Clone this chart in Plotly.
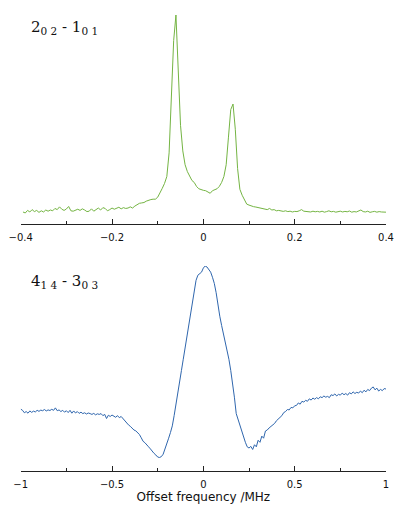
import plotly.graph_objects as go

# ---- data: 2_02 - 1_01 transition (x from -0.395 to 0.400 MHz, step 0.005)
top_x_start, top_x_step = -0.395, 0.005
top_signal = [
    0.000, -0.005, 0.008, 0.000, 0.012, 0.002, 0.008, -0.002, 0.006, 0.000,
    0.010, 0.004, 0.010, 0.006, 0.018, 0.012, 0.026, 0.014, 0.008, 0.015,
    0.028, 0.006, 0.004, 0.010, 0.014, 0.008, 0.016, 0.010, 0.002, 0.004,
    0.016, 0.004, 0.012, 0.020, 0.010, 0.022, 0.018, 0.006, 0.012, 0.020,
    0.014, 0.018, 0.024, 0.016, 0.022, 0.018, 0.020, 0.026, 0.020, 0.030,
    0.038, 0.044, 0.046, 0.048, 0.055, 0.060, 0.063, 0.065, 0.065, 0.075,
    0.095, 0.120, 0.145, 0.180, 0.300, 0.600, 0.870, 1.000, 0.720, 0.440,
    0.310, 0.240, 0.205, 0.180, 0.160, 0.150, 0.130, 0.118, 0.112, 0.110,
    0.108, 0.100, 0.095, 0.108, 0.115, 0.118, 0.130, 0.150, 0.180, 0.240,
    0.380, 0.520, 0.548, 0.420, 0.220, 0.115, 0.085, 0.060, 0.040, 0.035,
    0.030, 0.027, 0.025, 0.022, 0.020, 0.016, 0.014, 0.012, 0.018, 0.010,
    0.012, 0.006, 0.008, 0.004, 0.003, 0.006, 0.002, 0.004, 0.000, 0.003,
    0.002, 0.006, 0.012, 0.004, 0.002, 0.003, 0.000, 0.004, 0.001, 0.003,
    0.000, 0.004, -0.001, 0.002, 0.006, 0.001, 0.003, -0.001, 0.002, 0.004,
    0.000, 0.003, 0.001, 0.005, -0.001, 0.002, 0.000, 0.006, 0.010, 0.002,
    0.000, 0.004, -0.002, 0.001, 0.003, -0.001, 0.002, 0.000, 0.001, -0.001,
]
top_x = [round(top_x_start + i * top_x_step, 4) for i in range(len(top_signal))]

# ---- data: 4_14 - 3_03 transition (x from -1.00 to 1.00 MHz, step 0.01)
bot_x_start, bot_x_step = -1.0, 0.01
bot_signal = [
    0.302, 0.296, 0.284, 0.290, 0.282, 0.293, 0.286, 0.292, 0.288, 0.296,
    0.291, 0.297, 0.294, 0.300, 0.293, 0.298, 0.295, 0.301, 0.296, 0.308,
    0.294, 0.298, 0.290, 0.296, 0.287, 0.294, 0.285, 0.296, 0.282, 0.293,
    0.283, 0.290, 0.281, 0.287, 0.280, 0.284, 0.278, 0.283, 0.280, 0.276,
    0.281, 0.274, 0.279, 0.276, 0.280, 0.270, 0.276, 0.256, 0.272, 0.266,
    0.273, 0.268, 0.262, 0.270, 0.260, 0.266, 0.255, 0.245, 0.232, 0.225,
    0.218, 0.208, 0.200, 0.196, 0.188, 0.178, 0.162, 0.145, 0.138, 0.125,
    0.118, 0.108, 0.094, 0.086, 0.078, 0.068, 0.066, 0.070, 0.082, 0.105,
    0.135, 0.160, 0.188, 0.220, 0.270, 0.330, 0.385, 0.435, 0.490, 0.545,
    0.600, 0.660, 0.715, 0.780, 0.830, 0.890, 0.930, 0.955, 0.965, 0.970,
    0.990, 1.000, 0.995, 0.985, 0.970, 0.945, 0.915, 0.870, 0.805, 0.755,
    0.710, 0.670, 0.630, 0.600, 0.545, 0.490, 0.430, 0.360, 0.280, 0.250,
    0.220, 0.195, 0.165, 0.140, 0.118, 0.112, 0.120, 0.105, 0.128, 0.118,
    0.150, 0.140, 0.170, 0.160, 0.195, 0.200, 0.210, 0.218, 0.228, 0.232,
    0.245, 0.252, 0.262, 0.270, 0.285, 0.290, 0.300, 0.298, 0.310, 0.308,
    0.318, 0.320, 0.332, 0.326, 0.340, 0.336, 0.345, 0.340, 0.352, 0.346,
    0.356, 0.350, 0.358, 0.352, 0.362, 0.358, 0.366, 0.360, 0.364, 0.358,
    0.372, 0.368, 0.376, 0.366, 0.374, 0.370, 0.380, 0.372, 0.378, 0.370,
    0.382, 0.376, 0.386, 0.378, 0.384, 0.380, 0.390, 0.382, 0.394, 0.386,
    0.398, 0.392, 0.404, 0.410, 0.396, 0.404, 0.390, 0.398, 0.392, 0.402,
    0.400,
]
bot_x = [round(bot_x_start + i * bot_x_step, 4) for i in range(len(bot_signal))]

top_ticks = [-0.4, -0.2, 0, 0.2, 0.4]
bot_ticks = [-1, -0.5, 0, 0.5, 1]
top_label = "2<sub>0 2</sub> - 1<sub>0 1</sub>"
bot_label = "4<sub>1 4</sub> - 3<sub>0 3</sub>"
x_title = "Offset frequency /MHz"

# page body has an 8px margin: figure is laid out in window pixels minus 8
OFF = 8
W, H = 407 - OFF, 508 - OFF
def px_y(p):
    return 1 - (p - OFF) / H
def px_x(p):
    return (p - OFF) / W

fig = go.Figure()
fig.add_trace(go.Scatter(x=top_x, y=top_signal, mode="lines",
                         line=dict(color="#74b443", width=1), xaxis="x", yaxis="y",
                         showlegend=False))
fig.add_trace(go.Scatter(x=bot_x, y=bot_signal, mode="lines",
                         line=dict(color="#2f66ad", width=1), xaxis="x2", yaxis="y2",
                         showlegend=False))

axis_common = dict(showline=True, linecolor="#222", linewidth=1, ticks="inside",
                   ticklen=5, tickwidth=1, tickcolor="#222", showgrid=False,
                   zeroline=False, automargin=False, ticklabelstandoff=4,
                   tickfont=dict(family="DejaVu Sans", size=10, color="#111"))
xdom = [px_x(20.7), px_x(386)]

fig.update_layout(
    width=W, height=H, margin=dict(l=0, r=0, t=0, b=0),
    paper_bgcolor="white", plot_bgcolor="white",
    xaxis=dict(domain=xdom, range=[-0.4, 0.4], tickvals=top_ticks, anchor="y",
               minor=dict(dtick=0.1, ticks="inside", ticklen=3, tickcolor="#222", showgrid=False),
               **axis_common),
    yaxis=dict(domain=[px_y(224), px_y(15)], range=[-0.061, 1.0], visible=False, anchor="x"),
    xaxis2=dict(domain=xdom, range=[-1, 1], tickvals=bot_ticks, anchor="y2",
                minor=dict(dtick=0.25, ticks="inside", ticklen=3, tickcolor="#222", showgrid=False),
                title=dict(text=x_title, font=dict(family="DejaVu Sans", size=12, color="#111"),
                           standoff=2),
                **axis_common),
    yaxis2=dict(domain=[px_y(471), px_y(266)], range=[0, 1.0], visible=False, anchor="x2"),
    annotations=[
        dict(text=top_label, xref="paper", yref="paper", x=px_x(29), y=px_y(27),
             xanchor="left", yanchor="middle", showarrow=False,
             font=dict(family="DejaVu Serif", size=15, color="#111")),
        dict(text=bot_label, xref="paper", yref="paper", x=px_x(29), y=px_y(281),
             xanchor="left", yanchor="middle", showarrow=False,
             font=dict(family="DejaVu Serif", size=15, color="#111")),
    ],
)

fig.write_html("out.html")
